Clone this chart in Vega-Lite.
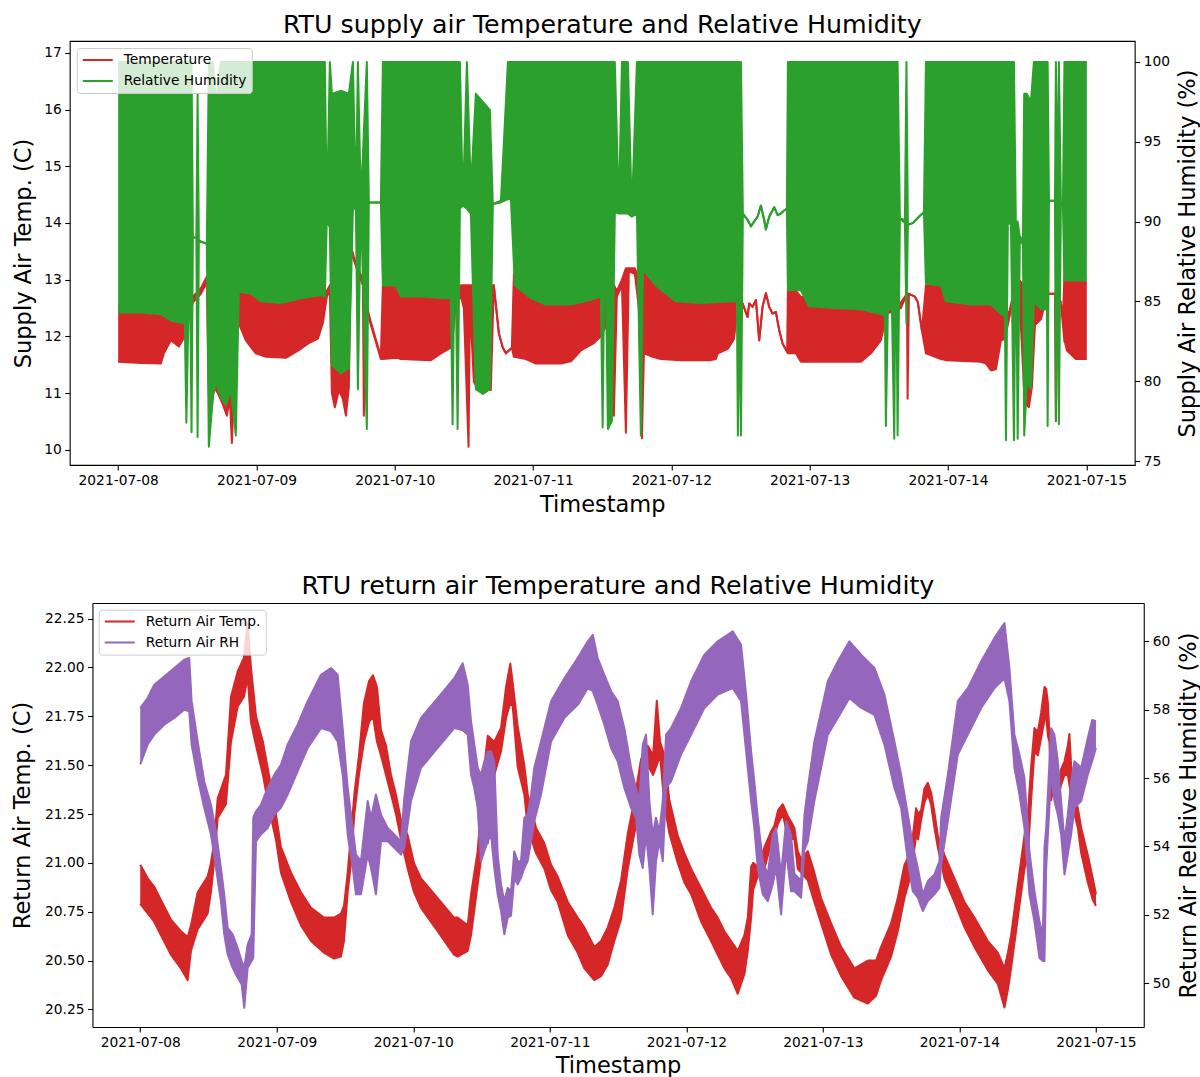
{
"$schema":"https://vega.github.io/schema/vega-lite/v6.json",
"padding":{"left":10.75,"top":12,"right":0,"bottom":0},
"spacing":57,
"columns":1,
"config":{
 "font":"DejaVu Sans",
 "view":{"stroke":"#000","strokeWidth":1.1},
 "axis":{"grid":false,"domain":false,"tickColor":"#000","tickWidth":1.1,"tickSize":4.9,"labelFontSize":13.8,"labelColor":"#000","titleFontSize":22.5,"titleFontWeight":"normal","titleColor":"#000","labelPadding":3.5},
 "title":{"fontSize":25.3,"fontWeight":"normal","color":"#000"},
 "legend":{"orient":"top-left","offset":7,"title":null,"symbolType":"stroke","symbolSize":900,"clipHeight":14,"symbolStrokeWidth":2,"labelFontSize":13.8,"labelColor":"#000","fillColor":"rgba(255,255,255,0.8)","strokeColor":"#cccccc","cornerRadius":3,"padding":5,"rowPadding":7,"labelOffset":10,"labelLimit":400}
},
"resolve":{"scale":{"color":"independent"},"legend":{"color":"independent"}},
"datasets":{
"sup_t":[
{"t":"2021-07-08T00:00","lo":11.55,"hi":12.55},
{"t":"2021-07-08T03:56","lo":11.53,"hi":12.5},
{"t":"2021-07-08T07:25","lo":11.52,"hi":12.5},
{"t":"2021-07-08T07:56","lo":11.7,"hi":12.5},
{"t":"2021-07-08T09:09","lo":11.93,"hi":12.6},
{"t":"2021-07-08T10:32","lo":11.82,"hi":12.6},
{"t":"2021-07-08T11:34","lo":12.0,"hi":12.65},
{"t":"2021-07-08T12:58","lo":12.6,"hi":12.7},
{"t":"2021-07-08T14:21","lo":12.75,"hi":12.85},
{"t":"2021-07-08T15:23","lo":12.95,"hi":13.05},
{"t":"2021-07-08T15:44","lo":11.0,"hi":12.9},
{"t":"2021-07-08T16:05","lo":10.6,"hi":12.9},
{"t":"2021-07-08T16:36","lo":11.1,"hi":12.9},
{"t":"2021-07-08T17:18","lo":11.0,"hi":12.9},
{"t":"2021-07-08T18:10","lo":10.8,"hi":12.9},
{"t":"2021-07-08T18:52","lo":10.6,"hi":12.9},
{"t":"2021-07-08T19:23","lo":10.9,"hi":12.9},
{"t":"2021-07-08T19:44","lo":10.12,"hi":12.9},
{"t":"2021-07-08T20:04","lo":11.0,"hi":12.9},
{"t":"2021-07-08T20:46","lo":12.2,"hi":12.9},
{"t":"2021-07-08T20:56","lo":12.23,"hi":12.8},
{"t":"2021-07-08T22:09","lo":11.93,"hi":12.8},
{"t":"2021-07-08T23:53","lo":11.7,"hi":12.8},
{"t":"2021-07-09T01:38","lo":11.64,"hi":12.8},
{"t":"2021-07-09T05:06","lo":11.62,"hi":12.8},
{"t":"2021-07-09T07:42","lo":11.78,"hi":12.8},
{"t":"2021-07-09T08:55","lo":11.87,"hi":12.8},
{"t":"2021-07-09T10:39","lo":11.96,"hi":12.8},
{"t":"2021-07-09T11:31","lo":12.23,"hi":12.8},
{"t":"2021-07-09T12:13","lo":12.7,"hi":12.8},
{"t":"2021-07-09T12:44","lo":12.8,"hi":12.9},
{"t":"2021-07-09T13:05","lo":11.0,"hi":12.9},
{"t":"2021-07-09T13:36","lo":10.75,"hi":12.9},
{"t":"2021-07-09T14:18","lo":11.05,"hi":12.9},
{"t":"2021-07-09T14:59","lo":10.9,"hi":12.9},
{"t":"2021-07-09T15:31","lo":10.6,"hi":12.9},
{"t":"2021-07-09T16:02","lo":11.1,"hi":12.9},
{"t":"2021-07-09T16:23","lo":13.5,"hi":13.6},
{"t":"2021-07-09T16:54","lo":13.35,"hi":13.4},
{"t":"2021-07-09T17:25","lo":13.2,"hi":13.25},
{"t":"2021-07-09T18:28","lo":12.9,"hi":13.0},
{"t":"2021-07-09T18:38","lo":10.6,"hi":12.9},
{"t":"2021-07-09T18:59","lo":12.5,"hi":12.6},
{"t":"2021-07-09T19:51","lo":12.2,"hi":12.25},
{"t":"2021-07-09T20:43","lo":11.9,"hi":11.95},
{"t":"2021-07-09T21:35","lo":11.6,"hi":11.65},
{"t":"2021-07-09T21:56","lo":11.6,"hi":12.9},
{"t":"2021-07-10T00:22","lo":11.62,"hi":12.9},
{"t":"2021-07-10T01:04","lo":11.6,"hi":12.8},
{"t":"2021-07-10T06:16","lo":11.58,"hi":12.8},
{"t":"2021-07-10T08:00","lo":11.7,"hi":12.8},
{"t":"2021-07-10T09:44","lo":11.8,"hi":12.8},
{"t":"2021-07-10T10:05","lo":12.0,"hi":12.8},
{"t":"2021-07-10T10:36","lo":12.6,"hi":12.8},
{"t":"2021-07-10T11:28","lo":12.7,"hi":12.9},
{"t":"2021-07-10T11:59","lo":12.5,"hi":12.9},
{"t":"2021-07-10T12:48","lo":10.05,"hi":12.9},
{"t":"2021-07-10T13:02","lo":12.6,"hi":12.9},
{"t":"2021-07-10T13:43","lo":11.2,"hi":12.9},
{"t":"2021-07-10T14:35","lo":11.05,"hi":12.9},
{"t":"2021-07-10T15:28","lo":11.1,"hi":12.9},
{"t":"2021-07-10T16:40","lo":11.05,"hi":12.9},
{"t":"2021-07-10T17:11","lo":12.9,"hi":12.9},
{"t":"2021-07-10T18:04","lo":12.05,"hi":12.05},
{"t":"2021-07-10T18:45","lo":11.8,"hi":11.8},
{"t":"2021-07-10T19:17","lo":11.7,"hi":11.7},
{"t":"2021-07-10T19:48","lo":11.75,"hi":11.75},
{"t":"2021-07-10T20:19","lo":11.8,"hi":11.8},
{"t":"2021-07-10T20:40","lo":11.64,"hi":13.1},
{"t":"2021-07-10T22:45","lo":11.6,"hi":12.9},
{"t":"2021-07-11T00:29","lo":11.52,"hi":12.75},
{"t":"2021-07-11T04:49","lo":11.52,"hi":12.75},
{"t":"2021-07-11T06:34","lo":11.56,"hi":12.75},
{"t":"2021-07-11T08:18","lo":11.75,"hi":12.75},
{"t":"2021-07-11T10:33","lo":11.88,"hi":12.75},
{"t":"2021-07-11T11:46","lo":12.0,"hi":12.75},
{"t":"2021-07-11T12:38","lo":12.18,"hi":12.75},
{"t":"2021-07-11T13:30","lo":12.7,"hi":12.8},
{"t":"2021-07-11T14:01","lo":10.6,"hi":12.9},
{"t":"2021-07-11T14:32","lo":12.7,"hi":12.8},
{"t":"2021-07-11T15:25","lo":12.9,"hi":13.0},
{"t":"2021-07-11T16:06","lo":10.3,"hi":13.2},
{"t":"2021-07-11T16:37","lo":13.15,"hi":13.2},
{"t":"2021-07-11T17:40","lo":13.1,"hi":13.2},
{"t":"2021-07-11T18:21","lo":12.5,"hi":13.0},
{"t":"2021-07-11T18:53","lo":10.2,"hi":13.1},
{"t":"2021-07-11T19:14","lo":11.7,"hi":13.2},
{"t":"2021-07-11T20:26","lo":11.65,"hi":13.1},
{"t":"2021-07-11T22:10","lo":11.6,"hi":12.9},
{"t":"2021-07-12T01:39","lo":11.58,"hi":12.8},
{"t":"2021-07-12T06:51","lo":11.58,"hi":12.8},
{"t":"2021-07-12T07:43","lo":11.6,"hi":12.8},
{"t":"2021-07-12T08:04","lo":11.7,"hi":12.8},
{"t":"2021-07-12T09:48","lo":11.78,"hi":12.8},
{"t":"2021-07-12T10:51","lo":11.95,"hi":12.8},
{"t":"2021-07-12T11:22","lo":12.4,"hi":12.8},
{"t":"2021-07-12T12:04","lo":12.55,"hi":12.6},
{"t":"2021-07-12T12:21","lo":12.58,"hi":12.58},
{"t":"2021-07-12T13:13","lo":12.34,"hi":12.34},
{"t":"2021-07-12T13:30","lo":12.58,"hi":12.58},
{"t":"2021-07-12T14:05","lo":12.52,"hi":12.52},
{"t":"2021-07-12T14:40","lo":12.64,"hi":12.64},
{"t":"2021-07-12T15:14","lo":11.93,"hi":11.93},
{"t":"2021-07-12T15:49","lo":12.52,"hi":12.52},
{"t":"2021-07-12T16:24","lo":12.76,"hi":12.76},
{"t":"2021-07-12T16:58","lo":12.52,"hi":12.52},
{"t":"2021-07-12T17:33","lo":12.4,"hi":12.4},
{"t":"2021-07-12T18:08","lo":12.43,"hi":12.43},
{"t":"2021-07-12T18:42","lo":12.11,"hi":12.11},
{"t":"2021-07-12T19:18","lo":11.87,"hi":11.87},
{"t":"2021-07-12T20:05","lo":11.73,"hi":11.73},
{"t":"2021-07-12T20:13","lo":11.7,"hi":12.85},
{"t":"2021-07-12T21:36","lo":11.7,"hi":12.8},
{"t":"2021-07-12T22:28","lo":11.55,"hi":12.7},
{"t":"2021-07-13T03:41","lo":11.55,"hi":12.6},
{"t":"2021-07-13T08:53","lo":11.55,"hi":12.6},
{"t":"2021-07-13T10:37","lo":11.7,"hi":12.6},
{"t":"2021-07-13T12:21","lo":11.93,"hi":12.5},
{"t":"2021-07-13T13:24","lo":12.4,"hi":12.5},
{"t":"2021-07-13T15:49","lo":12.5,"hi":12.6},
{"t":"2021-07-13T16:52","lo":12.75,"hi":12.75},
{"t":"2021-07-13T16:59","lo":10.9,"hi":12.75},
{"t":"2021-07-13T17:13","lo":12.75,"hi":12.75},
{"t":"2021-07-13T18:15","lo":12.7,"hi":12.7},
{"t":"2021-07-13T18:46","lo":12.6,"hi":12.6},
{"t":"2021-07-13T19:28","lo":12.1,"hi":12.1},
{"t":"2021-07-13T20:10","lo":11.7,"hi":12.9},
{"t":"2021-07-13T22:46","lo":11.6,"hi":12.9},
{"t":"2021-07-13T23:38","lo":11.58,"hi":12.6},
{"t":"2021-07-14T05:43","lo":11.55,"hi":12.6},
{"t":"2021-07-14T06:35","lo":11.52,"hi":12.65},
{"t":"2021-07-14T07:27","lo":11.4,"hi":12.65},
{"t":"2021-07-14T08:19","lo":11.42,"hi":12.65},
{"t":"2021-07-14T09:11","lo":11.93,"hi":12.5},
{"t":"2021-07-14T09:52","lo":11.95,"hi":12.5},
{"t":"2021-07-14T10:34","lo":12.3,"hi":12.4},
{"t":"2021-07-14T11:26","lo":12.7,"hi":12.8},
{"t":"2021-07-14T12:18","lo":12.9,"hi":13.0},
{"t":"2021-07-14T13:13","lo":11.0,"hi":12.9},
{"t":"2021-07-14T13:31","lo":10.8,"hi":12.9},
{"t":"2021-07-14T14:02","lo":10.75,"hi":12.9},
{"t":"2021-07-14T14:33","lo":11.1,"hi":12.9},
{"t":"2021-07-14T15:05","lo":12.2,"hi":13.0},
{"t":"2021-07-14T16:07","lo":12.3,"hi":12.95},
{"t":"2021-07-14T17:10","lo":12.7,"hi":12.75},
{"t":"2021-07-14T17:31","lo":12.75,"hi":12.75},
{"t":"2021-07-14T18:33","lo":12.75,"hi":12.75},
{"t":"2021-07-14T18:43","lo":10.5,"hi":12.8},
{"t":"2021-07-14T18:59","lo":12.75,"hi":12.75},
{"t":"2021-07-14T19:35","lo":12.6,"hi":12.6},
{"t":"2021-07-14T19:56","lo":12.2,"hi":12.3},
{"t":"2021-07-14T20:12","lo":11.9,"hi":13.1},
{"t":"2021-07-14T20:17","lo":11.9,"hi":14.1},
{"t":"2021-07-14T20:38","lo":11.75,"hi":13.05},
{"t":"2021-07-14T22:11","lo":11.6,"hi":13.0},
{"t":"2021-07-15T00:05","lo":11.6,"hi":12.95}
],
"sup_rh":[
{"t":"2021-07-08T00:00","lo":84.3,"hi":100},
{"t":"2021-07-08T03:56","lo":84.3,"hi":100},
{"t":"2021-07-08T07:25","lo":84.2,"hi":100},
{"t":"2021-07-08T09:09","lo":83.8,"hi":100},
{"t":"2021-07-08T11:34","lo":83.6,"hi":100},
{"t":"2021-07-08T11:50","lo":77.4,"hi":100},
{"t":"2021-07-08T12:11","lo":84,"hi":100},
{"t":"2021-07-08T12:32","lo":84,"hi":100},
{"t":"2021-07-08T12:44","lo":76.8,"hi":100},
{"t":"2021-07-08T12:58","lo":89,"hi":89},
{"t":"2021-07-08T13:34","lo":89,"hi":89},
{"t":"2021-07-08T13:47","lo":76.5,"hi":98},
{"t":"2021-07-08T14:00","lo":88.8,"hi":88.8},
{"t":"2021-07-08T15:23","lo":88.6,"hi":88.6},
{"t":"2021-07-08T15:44","lo":75.9,"hi":100},
{"t":"2021-07-08T16:26","lo":79,"hi":100},
{"t":"2021-07-08T16:57","lo":80,"hi":97.5},
{"t":"2021-07-08T17:49","lo":79,"hi":100},
{"t":"2021-07-08T18:41","lo":78.5,"hi":100},
{"t":"2021-07-08T19:33","lo":79.5,"hi":100},
{"t":"2021-07-08T20:25","lo":76.6,"hi":100},
{"t":"2021-07-08T20:56","lo":85.6,"hi":100},
{"t":"2021-07-08T23:01","lo":85.5,"hi":100},
{"t":"2021-07-09T00:46","lo":85.0,"hi":100},
{"t":"2021-07-09T04:14","lo":84.9,"hi":100},
{"t":"2021-07-09T07:42","lo":85.2,"hi":100},
{"t":"2021-07-09T11:10","lo":85.4,"hi":100},
{"t":"2021-07-09T11:52","lo":85.3,"hi":100},
{"t":"2021-07-09T12:13","lo":90.2,"hi":90.5},
{"t":"2021-07-09T12:44","lo":89.6,"hi":100},
{"t":"2021-07-09T13:05","lo":81,"hi":98},
{"t":"2021-07-09T14:39","lo":80.5,"hi":98.2},
{"t":"2021-07-09T16:02","lo":80.8,"hi":98},
{"t":"2021-07-09T16:44","lo":90.7,"hi":100},
{"t":"2021-07-09T17:15","lo":91,"hi":91},
{"t":"2021-07-09T17:36","lo":79.5,"hi":100},
{"t":"2021-07-09T18:07","lo":91.2,"hi":91.2},
{"t":"2021-07-09T19:09","lo":77,"hi":100},
{"t":"2021-07-09T19:30","lo":91.2,"hi":91.2},
{"t":"2021-07-09T21:35","lo":91.2,"hi":91.2},
{"t":"2021-07-09T21:56","lo":86.0,"hi":100},
{"t":"2021-07-10T00:11","lo":86.0,"hi":100},
{"t":"2021-07-10T01:04","lo":85.3,"hi":100},
{"t":"2021-07-10T04:32","lo":85.3,"hi":100},
{"t":"2021-07-10T08:52","lo":85.2,"hi":100},
{"t":"2021-07-10T09:44","lo":85.2,"hi":100},
{"t":"2021-07-10T10:02","lo":77.3,"hi":100},
{"t":"2021-07-10T10:26","lo":90.8,"hi":100},
{"t":"2021-07-10T10:54","lo":77,"hi":100},
{"t":"2021-07-10T11:18","lo":90.8,"hi":100},
{"t":"2021-07-10T11:49","lo":91,"hi":91},
{"t":"2021-07-10T12:31","lo":90.8,"hi":100},
{"t":"2021-07-10T13:12","lo":90.5,"hi":92},
{"t":"2021-07-10T14:04","lo":79.5,"hi":98},
{"t":"2021-07-10T15:17","lo":79.2,"hi":97.5},
{"t":"2021-07-10T16:30","lo":79.5,"hi":97},
{"t":"2021-07-10T17:01","lo":91.1,"hi":91.1},
{"t":"2021-07-10T18:25","lo":91.2,"hi":91.3},
{"t":"2021-07-10T19:38","lo":91.4,"hi":100},
{"t":"2021-07-10T20:09","lo":91.4,"hi":100},
{"t":"2021-07-10T20:50","lo":86.0,"hi":100},
{"t":"2021-07-10T23:37","lo":85.2,"hi":100},
{"t":"2021-07-11T02:13","lo":84.8,"hi":100},
{"t":"2021-07-11T06:34","lo":84.8,"hi":100},
{"t":"2021-07-11T10:02","lo":85.1,"hi":100},
{"t":"2021-07-11T11:46","lo":85.3,"hi":100},
{"t":"2021-07-11T12:04","lo":77.1,"hi":100},
{"t":"2021-07-11T12:28","lo":90.7,"hi":100},
{"t":"2021-07-11T12:59","lo":77,"hi":100},
{"t":"2021-07-11T13:40","lo":77.5,"hi":100},
{"t":"2021-07-11T14:11","lo":90.6,"hi":100},
{"t":"2021-07-11T14:53","lo":90.5,"hi":90.7},
{"t":"2021-07-11T15:25","lo":90.5,"hi":100},
{"t":"2021-07-11T16:27","lo":90.5,"hi":100},
{"t":"2021-07-11T17:08","lo":90.3,"hi":90.5},
{"t":"2021-07-11T18:01","lo":90.5,"hi":100},
{"t":"2021-07-11T18:42","lo":76.6,"hi":100},
{"t":"2021-07-11T19:03","lo":87.0,"hi":100},
{"t":"2021-07-11T21:18","lo":86.0,"hi":100},
{"t":"2021-07-12T00:47","lo":85.0,"hi":100},
{"t":"2021-07-12T05:07","lo":84.9,"hi":100},
{"t":"2021-07-12T10:19","lo":85.0,"hi":100},
{"t":"2021-07-12T11:22","lo":85.0,"hi":100},
{"t":"2021-07-12T11:32","lo":76.6,"hi":100},
{"t":"2021-07-12T11:53","lo":85,"hi":100},
{"t":"2021-07-12T12:04","lo":76.6,"hi":100},
{"t":"2021-07-12T12:24","lo":90.5,"hi":90.5},
{"t":"2021-07-12T13:13","lo":90.1,"hi":90.1},
{"t":"2021-07-12T13:48","lo":89.7,"hi":89.7},
{"t":"2021-07-12T14:22","lo":90.0,"hi":90.0},
{"t":"2021-07-12T14:57","lo":90.3,"hi":90.3},
{"t":"2021-07-12T15:32","lo":91.0,"hi":91.0},
{"t":"2021-07-12T16:06","lo":90.1,"hi":90.1},
{"t":"2021-07-12T16:24","lo":89.5,"hi":89.5},
{"t":"2021-07-12T16:58","lo":90.3,"hi":90.3},
{"t":"2021-07-12T17:50","lo":90.9,"hi":90.9},
{"t":"2021-07-12T18:26","lo":90.4,"hi":90.4},
{"t":"2021-07-12T19:00","lo":90.5,"hi":90.5},
{"t":"2021-07-12T19:34","lo":90.7,"hi":90.7},
{"t":"2021-07-12T20:02","lo":90.8,"hi":90.8},
{"t":"2021-07-12T20:13","lo":85.7,"hi":100},
{"t":"2021-07-12T22:28","lo":85.7,"hi":100},
{"t":"2021-07-12T23:52","lo":84.7,"hi":100},
{"t":"2021-07-13T03:41","lo":84.6,"hi":100},
{"t":"2021-07-13T08:53","lo":84.5,"hi":100},
{"t":"2021-07-13T12:21","lo":84.2,"hi":100},
{"t":"2021-07-13T13:03","lo":84.1,"hi":100},
{"t":"2021-07-13T13:13","lo":77.2,"hi":100},
{"t":"2021-07-13T13:34","lo":84.5,"hi":100},
{"t":"2021-07-13T14:16","lo":84.5,"hi":100},
{"t":"2021-07-13T14:40","lo":76.4,"hi":100},
{"t":"2021-07-13T14:57","lo":90,"hi":100},
{"t":"2021-07-13T15:15","lo":76.6,"hi":100},
{"t":"2021-07-13T15:39","lo":90.2,"hi":90.2},
{"t":"2021-07-13T16:31","lo":89.9,"hi":90.1},
{"t":"2021-07-13T16:47","lo":83.6,"hi":100},
{"t":"2021-07-13T17:02","lo":89.8,"hi":89.8},
{"t":"2021-07-13T17:54","lo":89.9,"hi":89.9},
{"t":"2021-07-13T18:57","lo":90.3,"hi":90.3},
{"t":"2021-07-13T19:49","lo":90.6,"hi":90.6},
{"t":"2021-07-13T20:10","lo":86.1,"hi":100},
{"t":"2021-07-13T22:46","lo":86.0,"hi":100},
{"t":"2021-07-13T23:38","lo":85.0,"hi":100},
{"t":"2021-07-14T03:58","lo":84.8,"hi":100},
{"t":"2021-07-14T07:27","lo":84.8,"hi":100},
{"t":"2021-07-14T09:11","lo":84.2,"hi":100},
{"t":"2021-07-14T09:52","lo":84.1,"hi":100},
{"t":"2021-07-14T10:03","lo":76.3,"hi":100},
{"t":"2021-07-14T10:23","lo":90,"hi":100},
{"t":"2021-07-14T10:55","lo":89.8,"hi":100},
{"t":"2021-07-14T11:26","lo":76.3,"hi":100},
{"t":"2021-07-14T11:47","lo":89.5,"hi":89.5},
{"t":"2021-07-14T12:05","lo":76.4,"hi":90},
{"t":"2021-07-14T12:28","lo":89,"hi":89},
{"t":"2021-07-14T13:00","lo":88.5,"hi":89},
{"t":"2021-07-14T13:13","lo":76.6,"hi":98},
{"t":"2021-07-14T13:41","lo":80,"hi":98},
{"t":"2021-07-14T14:23","lo":79.5,"hi":97.5},
{"t":"2021-07-14T14:54","lo":85,"hi":100},
{"t":"2021-07-14T16:07","lo":84.5,"hi":100},
{"t":"2021-07-14T17:10","lo":84.5,"hi":100},
{"t":"2021-07-14T17:17","lo":77.2,"hi":100},
{"t":"2021-07-14T17:31","lo":91.3,"hi":91.3},
{"t":"2021-07-14T18:33","lo":91.3,"hi":91.3},
{"t":"2021-07-14T18:43","lo":77.6,"hi":100},
{"t":"2021-07-14T18:59","lo":91.2,"hi":91.2},
{"t":"2021-07-14T19:14","lo":77.3,"hi":100},
{"t":"2021-07-14T19:35","lo":91.0,"hi":91.2},
{"t":"2021-07-14T19:56","lo":91,"hi":91},
{"t":"2021-07-14T20:12","lo":86.3,"hi":100},
{"t":"2021-07-14T22:11","lo":86.3,"hi":100},
{"t":"2021-07-15T00:05","lo":86.3,"hi":100}
],
"ret_t":[
{"t":"2021-07-08T00:00","lo":20.79,"hi":20.99},
{"t":"2021-07-08T01:21","lo":20.74,"hi":20.92},
{"t":"2021-07-08T02:25","lo":20.70,"hi":20.88},
{"t":"2021-07-08T04:10","lo":20.60,"hi":20.78},
{"t":"2021-07-08T05:24","lo":20.53,"hi":20.71},
{"t":"2021-07-08T07:09","lo":20.46,"hi":20.65},
{"t":"2021-07-08T08:20","lo":20.40,"hi":20.62},
{"t":"2021-07-08T08:55","lo":20.55,"hi":20.68},
{"t":"2021-07-08T10:06","lo":20.66,"hi":20.85},
{"t":"2021-07-08T11:51","lo":20.74,"hi":20.93},
{"t":"2021-07-08T12:26","lo":20.85,"hi":21.0},
{"t":"2021-07-08T12:58","lo":21.0,"hi":21.1},
{"t":"2021-07-08T13:37","lo":21.23,"hi":21.33},
{"t":"2021-07-08T15:04","lo":21.3,"hi":21.45},
{"t":"2021-07-08T15:57","lo":21.62,"hi":21.85},
{"t":"2021-07-08T17:08","lo":21.8,"hi":21.98},
{"t":"2021-07-08T18:14","lo":21.85,"hi":22.05},
{"t":"2021-07-08T18:53","lo":21.95,"hi":22.23},
{"t":"2021-07-08T19:28","lo":21.72,"hi":22.0},
{"t":"2021-07-08T20:21","lo":21.6,"hi":21.75},
{"t":"2021-07-08T21:34","lo":21.45,"hi":21.62},
{"t":"2021-07-08T22:38","lo":21.28,"hi":21.45},
{"t":"2021-07-08T23:51","lo":21.12,"hi":21.25},
{"t":"2021-07-09T00:44","lo":20.95,"hi":21.08},
{"t":"2021-07-09T02:30","lo":20.80,"hi":20.95},
{"t":"2021-07-09T04:15","lo":20.68,"hi":20.85},
{"t":"2021-07-09T06:01","lo":20.60,"hi":20.77},
{"t":"2021-07-09T08:18","lo":20.54,"hi":20.72},
{"t":"2021-07-09T10:03","lo":20.51,"hi":20.72},
{"t":"2021-07-09T11:17","lo":20.52,"hi":20.74},
{"t":"2021-07-09T11:49","lo":20.6,"hi":20.78},
{"t":"2021-07-09T12:28","lo":20.85,"hi":20.95},
{"t":"2021-07-09T13:03","lo":21.0,"hi":21.15},
{"t":"2021-07-09T13:38","lo":21.25,"hi":21.35},
{"t":"2021-07-09T14:27","lo":21.45,"hi":21.55},
{"t":"2021-07-09T15:20","lo":21.62,"hi":21.82},
{"t":"2021-07-09T16:13","lo":21.72,"hi":21.93},
{"t":"2021-07-09T16:55","lo":21.75,"hi":21.96},
{"t":"2021-07-09T17:37","lo":21.62,"hi":21.9},
{"t":"2021-07-09T18:19","lo":21.55,"hi":21.68},
{"t":"2021-07-09T19:12","lo":21.45,"hi":21.6},
{"t":"2021-07-09T20:05","lo":21.35,"hi":21.45},
{"t":"2021-07-09T20:57","lo":21.25,"hi":21.35},
{"t":"2021-07-09T21:50","lo":21.12,"hi":21.22},
{"t":"2021-07-09T23:01","lo":20.97,"hi":21.14},
{"t":"2021-07-10T00:07","lo":20.85,"hi":21.0},
{"t":"2021-07-10T01:21","lo":20.77,"hi":20.92},
{"t":"2021-07-10T04:17","lo":20.65,"hi":20.82},
{"t":"2021-07-10T07:09","lo":20.53,"hi":20.72},
{"t":"2021-07-10T07:48","lo":20.52,"hi":20.72},
{"t":"2021-07-10T09:34","lo":20.55,"hi":20.68},
{"t":"2021-07-10T10:09","lo":20.63,"hi":20.84},
{"t":"2021-07-10T11:19","lo":20.89,"hi":21.06},
{"t":"2021-07-10T12:29","lo":21.15,"hi":21.49},
{"t":"2021-07-10T13:05","lo":21.1,"hi":21.65},
{"t":"2021-07-10T14:14","lo":21.45,"hi":21.62},
{"t":"2021-07-10T15:25","lo":21.57,"hi":21.69},
{"t":"2021-07-10T16:18","lo":21.74,"hi":21.9},
{"t":"2021-07-10T17:03","lo":21.82,"hi":22.02},
{"t":"2021-07-10T17:29","lo":21.8,"hi":21.92},
{"t":"2021-07-10T18:21","lo":21.49,"hi":21.7},
{"t":"2021-07-10T19:31","lo":21.35,"hi":21.5},
{"t":"2021-07-10T20:07","lo":21.18,"hi":21.35},
{"t":"2021-07-10T21:34","lo":21.05,"hi":21.18},
{"t":"2021-07-10T23:02","lo":20.97,"hi":21.1},
{"t":"2021-07-11T00:13","lo":20.86,"hi":20.99},
{"t":"2021-07-11T01:23","lo":20.8,"hi":20.93},
{"t":"2021-07-11T03:09","lo":20.63,"hi":20.80},
{"t":"2021-07-11T04:54","lo":20.54,"hi":20.72},
{"t":"2021-07-11T06:04","lo":20.46,"hi":20.67},
{"t":"2021-07-11T07:49","lo":20.40,"hi":20.57},
{"t":"2021-07-11T09:00","lo":20.42,"hi":20.6},
{"t":"2021-07-11T10:11","lo":20.48,"hi":20.67},
{"t":"2021-07-11T11:20","lo":20.6,"hi":20.77},
{"t":"2021-07-11T12:31","lo":20.71,"hi":20.91},
{"t":"2021-07-11T13:42","lo":20.97,"hi":21.15},
{"t":"2021-07-11T14:51","lo":21.15,"hi":21.32},
{"t":"2021-07-11T16:02","lo":21.31,"hi":21.53},
{"t":"2021-07-11T17:13","lo":21.5,"hi":21.6},
{"t":"2021-07-11T18:09","lo":21.45,"hi":21.55},
{"t":"2021-07-11T18:48","lo":21.5,"hi":21.83},
{"t":"2021-07-11T19:23","lo":21.55,"hi":21.62},
{"t":"2021-07-11T20:08","lo":21.3,"hi":21.55},
{"t":"2021-07-11T21:01","lo":21.15,"hi":21.32},
{"t":"2021-07-11T22:29","lo":21.0,"hi":21.14},
{"t":"2021-07-11T23:39","lo":20.9,"hi":21.05},
{"t":"2021-07-12T00:50","lo":20.84,"hi":20.97},
{"t":"2021-07-12T02:35","lo":20.7,"hi":20.87},
{"t":"2021-07-12T04:21","lo":20.6,"hi":20.77},
{"t":"2021-07-12T05:31","lo":20.53,"hi":20.72},
{"t":"2021-07-12T06:41","lo":20.46,"hi":20.65},
{"t":"2021-07-12T07:52","lo":20.41,"hi":20.6},
{"t":"2021-07-12T09:02","lo":20.33,"hi":20.55},
{"t":"2021-07-12T10:12","lo":20.43,"hi":20.63},
{"t":"2021-07-12T10:48","lo":20.55,"hi":20.72},
{"t":"2021-07-12T11:23","lo":20.72,"hi":20.98},
{"t":"2021-07-12T11:44","lo":20.86,"hi":21.0},
{"t":"2021-07-12T12:33","lo":20.93,"hi":20.98},
{"t":"2021-07-12T13:43","lo":20.97,"hi":21.08},
{"t":"2021-07-12T14:53","lo":21.1,"hi":21.16},
{"t":"2021-07-12T15:28","lo":21.14,"hi":21.19},
{"t":"2021-07-12T16:07","lo":21.2,"hi":21.27},
{"t":"2021-07-12T16:57","lo":21.25,"hi":21.3},
{"t":"2021-07-12T17:50","lo":21.13,"hi":21.24},
{"t":"2021-07-12T18:59","lo":21.12,"hi":21.18},
{"t":"2021-07-12T19:35","lo":20.97,"hi":21.06},
{"t":"2021-07-12T20:10","lo":20.95,"hi":21.02},
{"t":"2021-07-12T21:21","lo":20.91,"hi":21.06},
{"t":"2021-07-12T22:30","lo":20.8,"hi":20.95},
{"t":"2021-07-12T23:41","lo":20.69,"hi":20.82},
{"t":"2021-07-13T01:27","lo":20.53,"hi":20.69},
{"t":"2021-07-13T03:12","lo":20.42,"hi":20.57},
{"t":"2021-07-13T05:32","lo":20.31,"hi":20.46},
{"t":"2021-07-13T07:54","lo":20.28,"hi":20.5},
{"t":"2021-07-13T09:21","lo":20.32,"hi":20.5},
{"t":"2021-07-13T10:14","lo":20.4,"hi":20.57},
{"t":"2021-07-13T11:59","lo":20.52,"hi":20.69},
{"t":"2021-07-13T13:10","lo":20.65,"hi":20.82},
{"t":"2021-07-13T14:20","lo":20.82,"hi":20.99},
{"t":"2021-07-13T15:30","lo":20.94,"hi":21.06},
{"t":"2021-07-13T16:23","lo":21.14,"hi":21.28},
{"t":"2021-07-13T16:44","lo":21.12,"hi":21.25},
{"t":"2021-07-13T17:16","lo":21.22,"hi":21.27},
{"t":"2021-07-13T17:51","lo":21.31,"hi":21.38},
{"t":"2021-07-13T18:27","lo":21.35,"hi":21.41},
{"t":"2021-07-13T19:01","lo":21.3,"hi":21.36},
{"t":"2021-07-13T19:36","lo":21.18,"hi":21.26},
{"t":"2021-07-13T20:12","lo":21.08,"hi":21.14},
{"t":"2021-07-13T21:22","lo":20.92,"hi":21.04},
{"t":"2021-07-13T23:07","lo":20.8,"hi":20.92},
{"t":"2021-07-14T00:53","lo":20.67,"hi":20.80},
{"t":"2021-07-14T02:38","lo":20.57,"hi":20.72},
{"t":"2021-07-14T05:00","lo":20.45,"hi":20.6},
{"t":"2021-07-14T06:45","lo":20.38,"hi":20.54},
{"t":"2021-07-14T07:55","lo":20.26,"hi":20.46},
{"t":"2021-07-14T08:31","lo":20.35,"hi":20.54},
{"t":"2021-07-14T09:05","lo":20.46,"hi":20.63},
{"t":"2021-07-14T10:16","lo":20.72,"hi":20.89},
{"t":"2021-07-14T11:26","lo":20.97,"hi":21.14},
{"t":"2021-07-14T12:02","lo":21.04,"hi":21.25},
{"t":"2021-07-14T12:36","lo":21.32,"hi":21.49},
{"t":"2021-07-14T13:11","lo":21.57,"hi":21.69},
{"t":"2021-07-14T13:47","lo":21.55,"hi":21.67},
{"t":"2021-07-14T14:22","lo":21.64,"hi":21.77},
{"t":"2021-07-14T14:57","lo":21.73,"hi":21.9},
{"t":"2021-07-14T15:15","lo":21.75,"hi":21.89},
{"t":"2021-07-14T15:33","lo":21.65,"hi":21.82},
{"t":"2021-07-14T15:49","lo":21.62,"hi":21.66},
{"t":"2021-07-14T16:07","lo":21.32,"hi":21.57},
{"t":"2021-07-14T16:42","lo":21.42,"hi":21.48},
{"t":"2021-07-14T17:18","lo":21.33,"hi":21.38},
{"t":"2021-07-14T17:53","lo":21.4,"hi":21.48},
{"t":"2021-07-14T18:28","lo":21.45,"hi":21.52},
{"t":"2021-07-14T19:03","lo":21.45,"hi":21.6},
{"t":"2021-07-14T19:20","lo":21.4,"hi":21.66},
{"t":"2021-07-14T19:38","lo":21.35,"hi":21.5},
{"t":"2021-07-14T20:13","lo":21.25,"hi":21.33},
{"t":"2021-07-14T20:49","lo":21.18,"hi":21.28},
{"t":"2021-07-14T21:24","lo":21.05,"hi":21.18},
{"t":"2021-07-14T22:34","lo":20.9,"hi":21.04},
{"t":"2021-07-14T23:27","lo":20.81,"hi":20.92},
{"t":"2021-07-15T00:00","lo":20.78,"hi":20.84}
],
"ret_rh":[
{"t":"2021-07-08T00:00","lo":56.4,"hi":58.05},
{"t":"2021-07-08T01:18","lo":56.98,"hi":58.34},
{"t":"2021-07-08T02:28","lo":57.27,"hi":58.73},
{"t":"2021-07-08T04:13","lo":57.56,"hi":58.97},
{"t":"2021-07-08T05:59","lo":57.76,"hi":59.22},
{"t":"2021-07-08T07:44","lo":58.0,"hi":59.46},
{"t":"2021-07-08T08:37","lo":57.95,"hi":59.51},
{"t":"2021-07-08T09:02","lo":56.98,"hi":58.25},
{"t":"2021-07-08T10:06","lo":56.0,"hi":57.07},
{"t":"2021-07-08T11:15","lo":55.13,"hi":55.9},
{"t":"2021-07-08T12:26","lo":54.35,"hi":55.22},
{"t":"2021-07-08T13:19","lo":53.37,"hi":54.44},
{"t":"2021-07-08T14:11","lo":52.4,"hi":53.37},
{"t":"2021-07-08T14:46","lo":51.43,"hi":52.6},
{"t":"2021-07-08T15:22","lo":50.84,"hi":51.62},
{"t":"2021-07-08T16:15","lo":50.45,"hi":51.43},
{"t":"2021-07-08T17:08","lo":50.16,"hi":51.03},
{"t":"2021-07-08T17:50","lo":49.96,"hi":50.65},
{"t":"2021-07-08T18:17","lo":49.28,"hi":50.45},
{"t":"2021-07-08T18:53","lo":50.45,"hi":51.13},
{"t":"2021-07-08T19:35","lo":50.65,"hi":51.43},
{"t":"2021-07-08T19:52","lo":50.74,"hi":54.84},
{"t":"2021-07-08T20:21","lo":54.15,"hi":55.03},
{"t":"2021-07-08T21:13","lo":54.35,"hi":55.22},
{"t":"2021-07-08T22:24","lo":54.54,"hi":55.71},
{"t":"2021-07-08T23:34","lo":54.93,"hi":56.1},
{"t":"2021-07-09T00:44","lo":55.13,"hi":56.39},
{"t":"2021-07-09T01:55","lo":55.52,"hi":56.98},
{"t":"2021-07-09T03:40","lo":56.2,"hi":57.56},
{"t":"2021-07-09T05:26","lo":56.88,"hi":58.25},
{"t":"2021-07-09T07:46","lo":57.46,"hi":59.02},
{"t":"2021-07-09T09:32","lo":57.37,"hi":59.22},
{"t":"2021-07-09T10:42","lo":57.07,"hi":59.02},
{"t":"2021-07-09T11:35","lo":56.1,"hi":57.46},
{"t":"2021-07-09T12:28","lo":54.35,"hi":55.71},
{"t":"2021-07-09T13:21","lo":53.37,"hi":54.54},
{"t":"2021-07-09T13:55","lo":52.6,"hi":53.76},
{"t":"2021-07-09T14:48","lo":52.6,"hi":53.57},
{"t":"2021-07-09T15:59","lo":53.76,"hi":55.33},
{"t":"2021-07-09T16:34","lo":53.37,"hi":54.84},
{"t":"2021-07-09T17:26","lo":52.6,"hi":55.52},
{"t":"2021-07-09T18:19","lo":54.15,"hi":54.93},
{"t":"2021-07-09T19:30","lo":54.15,"hi":54.54},
{"t":"2021-07-09T20:39","lo":53.96,"hi":54.35},
{"t":"2021-07-09T21:50","lo":53.76,"hi":54.15},
{"t":"2021-07-09T22:25","lo":53.96,"hi":55.42},
{"t":"2021-07-09T23:36","lo":55.33,"hi":57.07},
{"t":"2021-07-10T01:21","lo":56.3,"hi":57.76},
{"t":"2021-07-10T04:17","lo":56.88,"hi":58.34},
{"t":"2021-07-10T07:12","lo":57.46,"hi":58.92},
{"t":"2021-07-10T08:41","lo":57.4,"hi":59.36},
{"t":"2021-07-10T09:34","lo":57.27,"hi":58.73},
{"t":"2021-07-10T10:09","lo":56.1,"hi":57.66},
{"t":"2021-07-10T10:43","lo":55.71,"hi":57.0},
{"t":"2021-07-10T11:19","lo":55.13,"hi":56.3},
{"t":"2021-07-10T11:54","lo":53.57,"hi":56.1},
{"t":"2021-07-10T12:29","lo":53.86,"hi":56.49},
{"t":"2021-07-10T13:05","lo":54.15,"hi":56.78},
{"t":"2021-07-10T13:40","lo":54.35,"hi":56.78},
{"t":"2021-07-10T14:14","lo":53.37,"hi":56.49},
{"t":"2021-07-10T14:50","lo":52.6,"hi":53.76},
{"t":"2021-07-10T15:25","lo":52.11,"hi":52.89},
{"t":"2021-07-10T16:00","lo":51.43,"hi":52.4},
{"t":"2021-07-10T16:36","lo":51.92,"hi":52.79},
{"t":"2021-07-10T17:11","lo":51.98,"hi":52.69},
{"t":"2021-07-10T17:45","lo":53.08,"hi":53.86},
{"t":"2021-07-10T18:21","lo":52.89,"hi":53.57},
{"t":"2021-07-10T18:56","lo":53.08,"hi":53.57},
{"t":"2021-07-10T19:31","lo":53.37,"hi":54.84},
{"t":"2021-07-10T20:07","lo":53.57,"hi":54.93},
{"t":"2021-07-10T20:42","lo":54.15,"hi":55.52},
{"t":"2021-07-10T21:16","lo":54.74,"hi":56.3},
{"t":"2021-07-10T22:27","lo":55.52,"hi":57.07},
{"t":"2021-07-11T00:13","lo":57.07,"hi":58.25},
{"t":"2021-07-11T02:33","lo":57.76,"hi":58.92},
{"t":"2021-07-11T04:54","lo":58.14,"hi":59.51},
{"t":"2021-07-11T06:40","lo":58.63,"hi":60.0},
{"t":"2021-07-11T07:33","lo":58.54,"hi":60.19},
{"t":"2021-07-11T08:25","lo":58.14,"hi":59.51},
{"t":"2021-07-11T09:35","lo":57.56,"hi":59.02},
{"t":"2021-07-11T10:46","lo":56.88,"hi":58.54},
{"t":"2021-07-11T11:56","lo":56.49,"hi":58.25},
{"t":"2021-07-11T13:06","lo":55.71,"hi":57.46},
{"t":"2021-07-11T14:17","lo":55.13,"hi":56.3},
{"t":"2021-07-11T15:09","lo":54.84,"hi":55.71},
{"t":"2021-07-11T15:44","lo":53.76,"hi":55.33},
{"t":"2021-07-11T16:20","lo":53.37,"hi":56.98},
{"t":"2021-07-11T16:55","lo":54.35,"hi":57.27},
{"t":"2021-07-11T17:30","lo":53.37,"hi":55.33},
{"t":"2021-07-11T18:05","lo":52.01,"hi":54.35},
{"t":"2021-07-11T18:40","lo":53.57,"hi":54.84},
{"t":"2021-07-11T19:15","lo":54.15,"hi":54.44},
{"t":"2021-07-11T19:51","lo":53.57,"hi":55.33},
{"t":"2021-07-11T20:26","lo":55.71,"hi":57.27},
{"t":"2021-07-11T21:18","lo":55.9,"hi":57.46},
{"t":"2021-07-11T23:04","lo":56.69,"hi":58.05},
{"t":"2021-07-12T00:50","lo":57.27,"hi":58.83},
{"t":"2021-07-12T03:10","lo":58.05,"hi":59.61},
{"t":"2021-07-12T05:31","lo":58.44,"hi":60.0},
{"t":"2021-07-12T08:09","lo":58.63,"hi":60.29},
{"t":"2021-07-12T09:37","lo":58.25,"hi":59.9},
{"t":"2021-07-12T10:30","lo":56.78,"hi":58.44},
{"t":"2021-07-12T11:23","lo":55.33,"hi":56.78},
{"t":"2021-07-12T11:57","lo":54.54,"hi":55.9},
{"t":"2021-07-12T12:33","lo":53.37,"hi":54.84},
{"t":"2021-07-12T13:26","lo":52.6,"hi":53.57},
{"t":"2021-07-12T14:19","lo":52.4,"hi":53.18},
{"t":"2021-07-12T15:11","lo":52.89,"hi":54.35},
{"t":"2021-07-12T15:46","lo":53.38,"hi":54.54},
{"t":"2021-07-12T16:39","lo":52.01,"hi":53.18},
{"t":"2021-07-12T17:32","lo":53.86,"hi":54.74},
{"t":"2021-07-12T18:24","lo":52.69,"hi":54.35},
{"t":"2021-07-12T18:59","lo":52.69,"hi":53.2},
{"t":"2021-07-12T20:10","lo":52.5,"hi":53.0},
{"t":"2021-07-12T20:45","lo":53.9,"hi":54.9},
{"t":"2021-07-12T21:21","lo":54.15,"hi":55.71},
{"t":"2021-07-12T22:30","lo":55.33,"hi":57.07},
{"t":"2021-07-12T23:41","lo":56.3,"hi":57.95},
{"t":"2021-07-13T00:52","lo":57.27,"hi":58.83},
{"t":"2021-07-13T02:37","lo":57.76,"hi":59.41},
{"t":"2021-07-13T04:40","lo":58.34,"hi":60.0},
{"t":"2021-07-13T06:43","lo":58.05,"hi":59.61},
{"t":"2021-07-13T09:03","lo":57.85,"hi":59.22},
{"t":"2021-07-13T10:49","lo":56.98,"hi":58.44},
{"t":"2021-07-13T12:34","lo":55.71,"hi":57.07},
{"t":"2021-07-13T13:45","lo":55.13,"hi":56.1},
{"t":"2021-07-13T14:56","lo":53.57,"hi":54.93},
{"t":"2021-07-13T15:48","lo":52.69,"hi":54.05},
{"t":"2021-07-13T16:41","lo":52.5,"hi":53.37},
{"t":"2021-07-13T17:34","lo":52.11,"hi":52.6},
{"t":"2021-07-13T18:27","lo":52.4,"hi":52.99},
{"t":"2021-07-13T19:36","lo":52.6,"hi":53.18},
{"t":"2021-07-13T20:29","lo":52.79,"hi":53.57},
{"t":"2021-07-13T20:47","lo":53.47,"hi":54.84},
{"t":"2021-07-13T21:58","lo":54.74,"hi":56.1},
{"t":"2021-07-13T23:43","lo":56.69,"hi":58.25},
{"t":"2021-07-14T01:29","lo":57.27,"hi":58.63},
{"t":"2021-07-14T03:49","lo":58.05,"hi":59.41},
{"t":"2021-07-14T06:09","lo":58.63,"hi":60.1},
{"t":"2021-07-14T07:55","lo":58.92,"hi":60.53},
{"t":"2021-07-14T08:47","lo":58.25,"hi":59.22},
{"t":"2021-07-14T09:40","lo":56.3,"hi":57.27},
{"t":"2021-07-14T10:33","lo":55.52,"hi":56.69},
{"t":"2021-07-14T11:26","lo":54.54,"hi":56.0},
{"t":"2021-07-14T12:18","lo":52.6,"hi":53.86},
{"t":"2021-07-14T13:11","lo":51.81,"hi":52.69},
{"t":"2021-07-14T14:04","lo":50.74,"hi":51.81},
{"t":"2021-07-14T14:40","lo":50.65,"hi":51.43},
{"t":"2021-07-14T14:57","lo":50.65,"hi":53.96},
{"t":"2021-07-14T15:15","lo":53.37,"hi":54.54},
{"t":"2021-07-14T16:07","lo":56.1,"hi":57.46},
{"t":"2021-07-14T16:42","lo":55.33,"hi":57.27},
{"t":"2021-07-14T17:18","lo":54.93,"hi":56.49},
{"t":"2021-07-14T17:53","lo":54.35,"hi":55.33},
{"t":"2021-07-14T18:28","lo":53.18,"hi":54.15},
{"t":"2021-07-14T19:03","lo":53.76,"hi":54.93},
{"t":"2021-07-14T19:38","lo":54.35,"hi":55.9},
{"t":"2021-07-14T20:13","lo":55.13,"hi":56.49},
{"t":"2021-07-14T21:24","lo":55.33,"hi":56.3},
{"t":"2021-07-14T22:34","lo":56.1,"hi":57.17},
{"t":"2021-07-14T23:20","lo":56.5,"hi":57.7},
{"t":"2021-07-15T00:00","lo":56.88,"hi":57.66}
]
},
"concat":[
{
 "width":1065,"height":424,
 "title":{"text":"RTU supply air Temperature and Relative Humidity","frame":"group","anchor":"middle","baseline":"alphabetic","offset":-17.6},
 "encoding":{"x":{"field":"t","type":"temporal","scale":{"domain":[{"year":2021,"month":7,"date":7,"hours":15,"minutes":36},{"year":2021,"month":7,"date":15,"hours":8,"minutes":24}]},"axis":{"title":"Timestamp","format":"%Y-%m-%d","tickCount":{"interval":"day","step":1},"labelFlush":false,"labelOverlap":false,"titlePadding":6}}},
 "layer":[
  {"layer":[
   {"data":{"name":"sup_t"},"mark":{"type":"area","color":"#d62728","opacity":1},"encoding":{"y":{"field":"lo","type":"quantitative","scale":{"domain":[9.73,17.21],"nice":false,"zero":false},"axis":{"title":"Supply Air Temp. (C)","values":[10,11,12,13,14,15,16,17],"titlePadding":8.3}},"y2":{"field":"hi"}}},
   {"data":{"name":"sup_t"},"mark":{"type":"line","strokeWidth":2,"strokeJoin":"round"},"encoding":{"y":{"field":"lo","type":"quantitative","scale":{"domain":[9.73,17.21],"nice":false,"zero":false},"axis":{"title":"Supply Air Temp. (C)","values":[10,11,12,13,14,15,16,17],"titlePadding":8.3}},"color":{"datum":"Temperature","type":"nominal","scale":{"domain":["Temperature","Relative Humidity"],"range":["#d62728","#2ca02c"]},"legend":{"orient":"top-left"}}}},
   {"data":{"name":"sup_t"},"mark":{"type":"line","strokeWidth":2,"strokeJoin":"round"},"encoding":{"y":{"field":"hi","type":"quantitative","scale":{"domain":[9.73,17.21],"nice":false,"zero":false},"axis":{"title":"Supply Air Temp. (C)","values":[10,11,12,13,14,15,16,17],"titlePadding":8.3}},"color":{"datum":"Temperature","type":"nominal","scale":{"domain":["Temperature","Relative Humidity"],"range":["#d62728","#2ca02c"]},"legend":{"orient":"top-left"}}}}
  ]},
  {"layer":[
   {"data":{"name":"sup_rh"},"mark":{"type":"area","color":"#2ca02c","opacity":1},"encoding":{"y":{"field":"lo","type":"quantitative","scale":{"domain":[74.75,101.31],"nice":false,"zero":false},"axis":{"orient":"right","title":"Supply Air Relative Humidity (%)","values":[75,80,85,90,95,100],"titleAngle":270,"titleBaseline":"top","titlePadding":7}},"y2":{"field":"hi"}}},
   {"data":{"name":"sup_rh"},"mark":{"type":"line","strokeWidth":2,"strokeJoin":"round"},"encoding":{"y":{"field":"lo","type":"quantitative","scale":{"domain":[74.75,101.31],"nice":false,"zero":false},"axis":{"orient":"right","title":"Supply Air Relative Humidity (%)","values":[75,80,85,90,95,100],"titleAngle":270,"titleBaseline":"top","titlePadding":7}},"color":{"datum":"Relative Humidity","type":"nominal","scale":{"domain":["Temperature","Relative Humidity"],"range":["#d62728","#2ca02c"]},"legend":{"orient":"top-left"}}}},
   {"data":{"name":"sup_rh"},"mark":{"type":"line","strokeWidth":2,"strokeJoin":"round"},"encoding":{"y":{"field":"hi","type":"quantitative","scale":{"domain":[74.75,101.31],"nice":false,"zero":false},"axis":{"orient":"right","title":"Supply Air Relative Humidity (%)","values":[75,80,85,90,95,100],"titleAngle":270,"titleBaseline":"top","titlePadding":7}},"color":{"datum":"Relative Humidity","type":"nominal","scale":{"domain":["Temperature","Relative Humidity"],"range":["#d62728","#2ca02c"]},"legend":{"orient":"top-left"}}}}
  ]}
 ],
 "resolve":{"scale":{"y":"independent"}}
},
{
 "width":1074,"height":424,
 "view":{"stroke":null},
 "title":{"text":"RTU return air Temperature and Relative Humidity","frame":"group","anchor":"middle","baseline":"alphabetic","offset":-16.6,"dx":11.2},
 "layer":[
  {"encoding":{"x":{"field":"t","type":"temporal","scale":{"domain":[{"year":2021,"month":7,"date":7,"hours":15,"minutes":36},{"year":2021,"month":7,"date":15,"hours":8,"minutes":24}],"range":[22.7,1074]},"axis":{"title":"Timestamp","format":"%Y-%m-%d","tickCount":{"interval":"day","step":1},"labelFlush":false,"labelOverlap":false,"titlePadding":5,"domain":true,"domainColor":"#000","domainWidth":1.1}}},
   "layer":[
   {"data":{"name":"ret_t"},"mark":{"type":"area","color":"#d62728","opacity":1},"encoding":{"y":{"field":"lo","type":"quantitative","scale":{"domain":[20.16,22.33],"nice":false,"zero":false},"axis":{"title":"Return Air Temp. (C)","values":[20.25,20.5,20.75,21,21.25,21.5,21.75,22,22.25],"format":".2f","titlePadding":10,"offset":-22.7,"domain":true,"domainColor":"#000","domainWidth":1.1}},"y2":{"field":"hi"}}},
   {"data":{"name":"ret_t"},"mark":{"type":"line","strokeWidth":2,"strokeJoin":"round"},"encoding":{"y":{"field":"lo","type":"quantitative","scale":{"domain":[20.16,22.33],"nice":false,"zero":false},"axis":{"title":"Return Air Temp. (C)","values":[20.25,20.5,20.75,21,21.25,21.5,21.75,22,22.25],"format":".2f","titlePadding":10,"offset":-22.7,"domain":true,"domainColor":"#000","domainWidth":1.1}},"color":{"datum":"Return Air Temp.","type":"nominal","scale":{"domain":["Return Air Temp.","Return Air RH"],"range":["#d62728","#9467bd"]},"legend":{"orient":"none","legendX":29,"legendY":6.6}}}},
   {"data":{"name":"ret_t"},"mark":{"type":"line","strokeWidth":2,"strokeJoin":"round"},"encoding":{"y":{"field":"hi","type":"quantitative","scale":{"domain":[20.16,22.33],"nice":false,"zero":false},"axis":{"title":"Return Air Temp. (C)","values":[20.25,20.5,20.75,21,21.25,21.5,21.75,22,22.25],"format":".2f","titlePadding":10,"offset":-22.7,"domain":true,"domainColor":"#000","domainWidth":1.1}},"color":{"datum":"Return Air Temp.","type":"nominal","scale":{"domain":["Return Air Temp.","Return Air RH"],"range":["#d62728","#9467bd"]},"legend":{"orient":"none","legendX":29,"legendY":6.6}}}}
  ]},
  {"encoding":{"x":{"field":"t","type":"temporal","scale":{"domain":[{"year":2021,"month":7,"date":7,"hours":15,"minutes":36},{"year":2021,"month":7,"date":15,"hours":8,"minutes":24}],"range":[22.7,1074]},"axis":{"orient":"top","labels":false,"ticks":false,"title":null,"domain":true,"domainColor":"#000","domainWidth":1.1}}},
   "layer":[
   {"data":{"name":"ret_rh"},"mark":{"type":"area","color":"#9467bd","opacity":1},"encoding":{"y":{"field":"lo","type":"quantitative","scale":{"domain":[48.72,61.12],"nice":false,"zero":false},"axis":{"orient":"right","title":"Return Air Relative Humidity (%)","values":[50,52,54,56,58,60],"titleAngle":270,"titleBaseline":"top","titlePadding":7.6,"domain":true,"domainColor":"#000","domainWidth":1.1}},"y2":{"field":"hi"}}},
   {"data":{"name":"ret_rh"},"mark":{"type":"line","strokeWidth":2,"strokeJoin":"round"},"encoding":{"y":{"field":"lo","type":"quantitative","scale":{"domain":[48.72,61.12],"nice":false,"zero":false},"axis":{"orient":"right","title":"Return Air Relative Humidity (%)","values":[50,52,54,56,58,60],"titleAngle":270,"titleBaseline":"top","titlePadding":7.6,"domain":true,"domainColor":"#000","domainWidth":1.1}},"color":{"datum":"Return Air RH","type":"nominal","scale":{"domain":["Return Air Temp.","Return Air RH"],"range":["#d62728","#9467bd"]},"legend":{"orient":"none","legendX":29,"legendY":6.6}}}},
   {"data":{"name":"ret_rh"},"mark":{"type":"line","strokeWidth":2,"strokeJoin":"round"},"encoding":{"y":{"field":"hi","type":"quantitative","scale":{"domain":[48.72,61.12],"nice":false,"zero":false},"axis":{"orient":"right","title":"Return Air Relative Humidity (%)","values":[50,52,54,56,58,60],"titleAngle":270,"titleBaseline":"top","titlePadding":7.6,"domain":true,"domainColor":"#000","domainWidth":1.1}},"color":{"datum":"Return Air RH","type":"nominal","scale":{"domain":["Return Air Temp.","Return Air RH"],"range":["#d62728","#9467bd"]},"legend":{"orient":"none","legendX":29,"legendY":6.6}}}}
  ]}
 ],
 "resolve":{"scale":{"y":"independent"},"axis":{"x":"independent"}}
}
]
}
